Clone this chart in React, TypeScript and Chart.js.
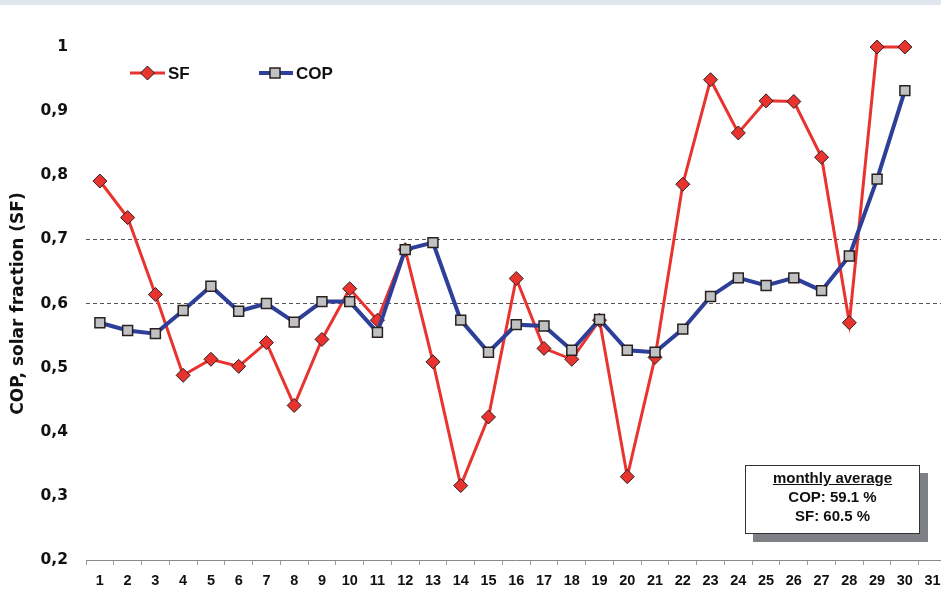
import React, { useEffect, useRef } from 'react';
import { Chart, registerables } from 'chart.js';

Chart.register(...registerables);

const dayLabels = ['1','2','3','4','5','6','7','8','9','10','11','12','13','14','15','16','17','18','19','20','21','22','23','24','25','26','27','28','29','30','31'];

const sfValues = [0.791, 0.734, 0.614, 0.488, 0.513, 0.502, 0.539, 0.441, 0.544, 0.623, 0.574, 0.684, 0.509, 0.316, 0.423, 0.639, 0.530, 0.513, 0.574, 0.330, 0.516, 0.786, 0.949, 0.866, 0.916, 0.915, 0.828, 0.570, 1.0, 1.0];

const copValues = [0.570, 0.558, 0.553, 0.589, 0.627, 0.588, 0.600, 0.571, 0.603, 0.603, 0.555, 0.684, 0.695, 0.574, 0.524, 0.567, 0.565, 0.527, 0.575, 0.527, 0.524, 0.560, 0.611, 0.640, 0.628, 0.640, 0.620, 0.674, 0.794, 0.932];

const dashedLevels = [0.6, 0.7];

const boxLines = ['monthly average', 'COP: 59.1 %', 'SF: 60.5 %'];

const SF_RED = '#e8332f';
const COP_BLUE = '#2d3f98';
const MARKER_BORDER = '#2a2020';
const COP_FILL = '#bfc1c3';

const legendPlugin = {
  id: 'customLegend',
  afterDatasetsDraw(chart: any) {
    const ctx = chart.ctx as CanvasRenderingContext2D;
    const y = 73;
    ctx.save();
    // SF
    ctx.strokeStyle = SF_RED;
    ctx.lineWidth = 3;
    ctx.beginPath();
    ctx.moveTo(130, y);
    ctx.lineTo(165, y);
    ctx.stroke();
    ctx.fillStyle = SF_RED;
    ctx.strokeStyle = MARKER_BORDER;
    ctx.lineWidth = 1;
    ctx.beginPath();
    ctx.moveTo(147.5, y - 7);
    ctx.lineTo(154.5, y);
    ctx.lineTo(147.5, y + 7);
    ctx.lineTo(140.5, y);
    ctx.closePath();
    ctx.fill();
    ctx.stroke();
    // COP
    ctx.strokeStyle = COP_BLUE;
    ctx.lineWidth = 4;
    ctx.beginPath();
    ctx.moveTo(259, y);
    ctx.lineTo(293, y);
    ctx.stroke();
    ctx.fillStyle = COP_FILL;
    ctx.strokeStyle = MARKER_BORDER;
    ctx.lineWidth = 1.5;
    ctx.fillRect(270, y - 5, 10, 10);
    ctx.strokeRect(270, y - 5, 10, 10);
    // text
    ctx.fillStyle = '#111';
    ctx.font = 'bold 17px "Liberation Sans", Arial, sans-serif';
    ctx.textBaseline = 'middle';
    ctx.textAlign = 'left';
    ctx.fillText('SF', 168, y + 1);
    ctx.fillText('COP', 296, y + 1);
    ctx.restore();
  },
};

export default function App() {
  const canvasRef = useRef<HTMLCanvasElement | null>(null);

  useEffect(() => {
    if (!canvasRef.current) return;
    const chart = new Chart(canvasRef.current, {
      type: 'line',
      data: {
        labels: dayLabels,
        datasets: [
          {
            label: 'SF',
            data: sfValues,
            borderColor: SF_RED,
            borderWidth: 3,
            backgroundColor: SF_RED,
            pointStyle: 'rectRot',
            pointRadius: 7,
            pointBackgroundColor: SF_RED,
            pointBorderColor: MARKER_BORDER,
            pointBorderWidth: 1,
            tension: 0,
            clip: false,
            order: 1,
          },
          {
            label: 'COP',
            data: copValues,
            borderColor: COP_BLUE,
            borderWidth: 4,
            backgroundColor: COP_FILL,
            pointStyle: 'rect',
            pointRadius: 7,
            pointBackgroundColor: COP_FILL,
            pointBorderColor: MARKER_BORDER,
            pointBorderWidth: 1.5,
            tension: 0,
            clip: false,
            order: 0,
          },
        ],
      },
      options: {
        responsive: false,
        animation: false,
        layout: { padding: { top: 47, left: 0, right: 0, bottom: 0 } },
        plugins: {
          legend: { display: false },
          tooltip: { enabled: false },
        },
        scales: {
          x: {
            type: 'category',
            offset: true,
            grid: {
              offset: true,
              drawOnChartArea: false,
              drawTicks: true,
              tickLength: 5,
              color: '#9a9a9a',
            },
            border: { display: true, color: '#8a8a8a', width: 1 },
            ticks: {
              color: '#111',
              padding: 7,
              maxRotation: 0,
              autoSkip: false,
              font: { family: '"Liberation Sans", Arial, sans-serif', weight: 'bold', size: 14.5 },
            },
            afterFit(scale: any) {
              scale.height = 31;
            },
          },
          y: {
            min: 0.2,
            max: 1.0,
            ticks: {
              stepSize: 0.1,
              padding: 18,
              color: '#111',
              font: { family: '"DejaVu Sans", sans-serif', weight: 'bold', size: 15.5 },
              callback: (v: any) => {
                const n = Number(v);
                if (Math.abs(n - 1) < 1e-6) return '1';
                return n.toFixed(1).replace('.', ',');
              },
            },
            grid: {
              drawTicks: false,
              lineWidth: 1,
              color: (c: any) => {
                const v = c.tick ? c.tick.value : null;
                if (v != null && dashedLevels.some((d) => Math.abs(d - v) < 1e-6)) return '#555';
                return 'rgba(0,0,0,0)';
              },
            },
            border: { display: false, dash: [4, 3] },
            title: {
              display: true,
              text: 'COP, solar fraction (SF)',
              color: '#111',
              padding: { top: 8, bottom: 0 },
              font: { family: '"DejaVu Sans", sans-serif', weight: 'bold', size: 17 },
            },
            afterFit(scale: any) {
              scale.width = 86;
            },
          },
        },
      },
      plugins: [legendPlugin],
    });
    return () => chart.destroy();
  }, []);

  return (
    <div style={{ position: 'fixed', left: 0, top: 0, width: 941, height: 591, overflow: 'hidden', background: '#fff' }}>
      <canvas ref={canvasRef} width={955} height={591} style={{ position: 'absolute', left: 0, top: 0, width: 955, height: 591 }} />
      <div style={{ position: 'absolute', left: 0, top: 0, width: 941, height: 5, background: '#dfe6ee' }} />
      <div
        style={{
          position: 'absolute',
          left: 745,
          top: 465,
          width: 175,
          height: 69,
          boxSizing: 'border-box',
          border: '1px solid #333',
          background: '#fff',
          boxShadow: '8px 8px 0 #7d8185',
          fontFamily: '"Liberation Sans", Arial, sans-serif',
          fontWeight: 'bold',
          fontSize: 15,
          color: '#111',
          textAlign: 'center',
          lineHeight: '19px',
          paddingTop: 2,
        }}
      >
        <div style={{ textDecoration: 'underline' }}>{boxLines[0]}</div>
        <div>{boxLines[1]}</div>
        <div>{boxLines[2]}</div>
      </div>
    </div>
  );
}
